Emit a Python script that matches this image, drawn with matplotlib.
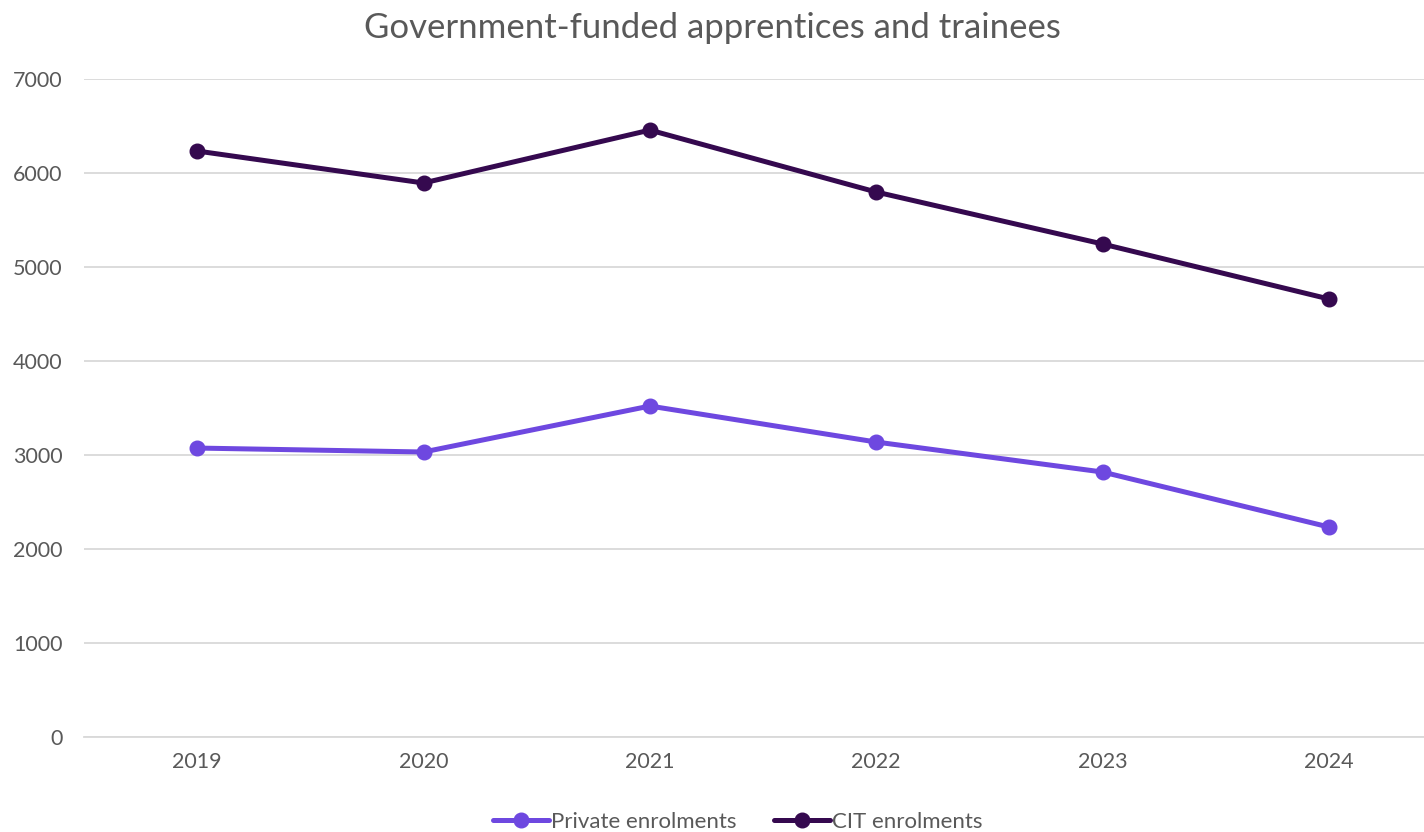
import matplotlib
matplotlib.use('Agg')
import matplotlib.pyplot as plt

# Datos
years = ['2019', '2020', '2021', '2022', '2023', '2024']
private_enrolments = [3074, 3032, 3521, 3138, 2819, 2234]
cit_enrolments = [6234, 5894, 6457, 5798, 5245, 4660]

PRIVATE_COLOR = '#6E48E0'
CIT_COLOR = '#35094F'
TEXT_COLOR = '#595959'

plt.rcParams['font.family'] = ['Lato', 'DejaVu Sans']

fig = plt.figure(figsize=(14.24, 8.32), dpi=100)
ax = fig.add_axes([0.059, 0.1142, 0.941, 0.7908])

x = range(len(years))
ax.plot(x, private_enrolments, color=PRIVATE_COLOR, lw=3.6, marker='o', ms=10.5,
        label='Private enrolments', solid_capstyle='round', zorder=3)
ax.plot(x, cit_enrolments, color=CIT_COLOR, lw=3.6, marker='o', ms=10.5,
        label='CIT enrolments', solid_capstyle='round', zorder=3)

ax.set_xlim(-0.5, 5.42)
ax.set_ylim(0, 7000)
ax.set_yticks(range(0, 7001, 1000))
ax.set_xticks(list(x))
ax.set_xticklabels(years)

ax.grid(axis='y', color='#D9D9D9', lw=1.3)
ax.set_axisbelow(True)
for s in ['top', 'right', 'left']:
    ax.spines[s].set_visible(False)
ax.spines['bottom'].set_color('#D9D9D9')
ax.spines['bottom'].set_linewidth(1.3)
ax.tick_params(length=0, labelsize=15.5, colors=TEXT_COLOR, pad=11)
ax.tick_params(axis='y', pad=15.5)

fig.suptitle('Government-funded apprentices and trainees', fontsize=25,
             color=TEXT_COLOR, y=0.986)

fig.legend(loc='lower center', bbox_to_anchor=(0.518, -0.024), ncol=2, frameon=False,
           fontsize=16, labelcolor=TEXT_COLOR, handlelength=2.5, handletextpad=0.1,
           columnspacing=1.7)

fig.savefig('out.png', dpi=100)
